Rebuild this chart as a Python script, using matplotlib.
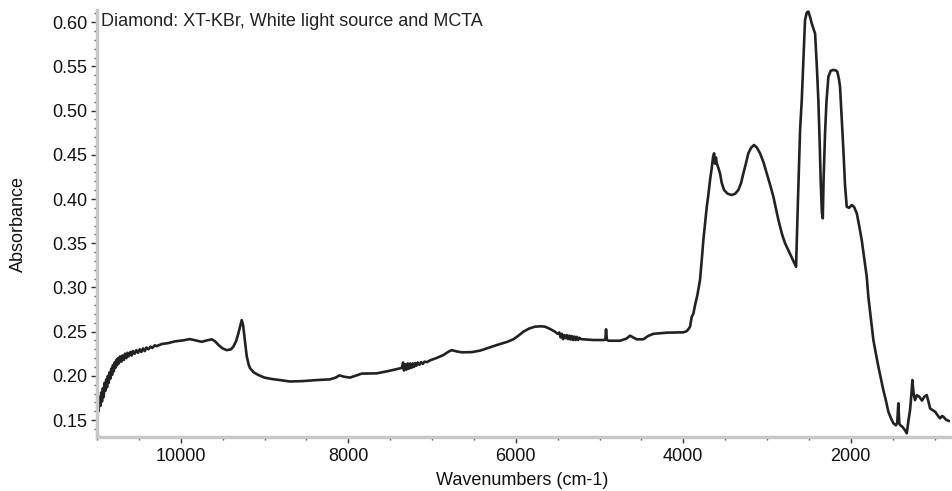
import matplotlib
matplotlib.use("Agg")
import matplotlib.pyplot as plt
from matplotlib.ticker import MultipleLocator

plt.rcParams['font.family'] = ['Liberation Sans', 'DejaVu Sans']

wavenumber = [
    11000, 10990, 10980, 10970, 10960, 10950, 10940, 10930, 10920, 10910,
    10900, 10890, 10880, 10870, 10860, 10850, 10840, 10830, 10820, 10810,
    10800, 10790, 10780, 10770, 10760, 10750, 10740, 10725, 10710, 10695,
    10680, 10665, 10650, 10635, 10620, 10600, 10585, 10570, 10550, 10530,
    10510, 10490, 10470, 10450, 10430, 10410, 10387, 10360, 10340, 10310,
    10290, 10227, 10150, 10068,
    9980, 9889, 9820, 9749, 9690, 9630, 9590, 9551, 9500, 9451,
    9400, 9372, 9340, 9312, 9290, 9272, 9255, 9240, 9225, 9212,
    9190, 9172, 9130, 9073, 9000, 8913, 8800, 8700, 8550, 8376,
    8217, 8150, 8106, 8050, 7978, 7900, 7839, 7660, 7501, 7400,
    7360, 7345, 7335, 7320, 7305, 7290, 7275, 7260, 7245, 7230,
    7215, 7200, 7185, 7170, 7150, 7130, 7110, 7090, 7060, 7023,
    6950, 6864, 6800, 6764, 6700, 6645, 6525, 6426, 6307, 6227,
    6100, 6029, 5960, 5909, 5840, 5770, 5700, 5650, 5580, 5531,
    5500, 5480, 5465, 5450, 5435, 5420, 5405, 5390, 5375, 5360,
    5345, 5330, 5315, 5300, 5285, 5270, 5255, 5240, 5220, 5150,
    5073, 4954, 4930, 4922, 4912, 4894, 4755, 4680, 4635,
    4600, 4555, 4476, 4420, 4357, 4197, 4080, 3999, 3960, 3939,
    3919, 3899, 3880, 3859, 3830, 3800, 3780, 3760, 3740, 3719,
    3700, 3680, 3660, 3645, 3632, 3620, 3610, 3600, 3580, 3561,
    3540, 3513, 3470, 3421, 3380, 3342, 3310, 3282, 3250, 3223,
    3190, 3155, 3120, 3083, 3040, 3003, 2960, 2924, 2864, 2820,
    2784, 2720, 2653, 2630, 2605, 2585, 2560, 2546, 2525, 2506,
    2486, 2466, 2440, 2426, 2405, 2387, 2370, 2358, 2345, 2334,
    2325, 2307, 2290, 2267, 2240, 2208, 2180, 2160, 2140, 2128,
    2110, 2088, 2068, 2048, 2020, 1988, 1960, 1928, 1900, 1869,
    1849, 1809, 1790, 1760, 1730, 1700, 1670, 1640, 1611, 1580,
    1551, 1520, 1491, 1460, 1445, 1432, 1420, 1411, 1380, 1350,
    1331, 1310, 1292, 1275, 1264, 1250, 1232, 1210, 1181, 1150,
    1120, 1093, 1070, 1053, 1020, 993, 960, 934, 910, 894,
    870, 854, 830,
]

absorbance = [
    0.155, 0.170, 0.160, 0.176, 0.166, 0.181, 0.171, 0.186, 0.176, 0.192,
    0.183, 0.196, 0.187, 0.200, 0.192, 0.204, 0.197, 0.208, 0.201, 0.212,
    0.205, 0.215, 0.209, 0.218, 0.212, 0.220, 0.214, 0.222, 0.216, 0.223,
    0.218, 0.225, 0.220, 0.226, 0.222, 0.227, 0.223, 0.228, 0.225, 0.229,
    0.226, 0.230, 0.227, 0.231, 0.228, 0.232, 0.230, 0.233, 0.2315, 0.2345,
    0.2335, 0.236, 0.237, 0.239,
    0.240, 0.2415, 0.240, 0.2385, 0.240, 0.2413, 0.239, 0.235, 0.231, 0.229,
    0.230, 0.233, 0.239, 0.248, 0.256, 0.263, 0.257, 0.245, 0.232, 0.222,
    0.213, 0.2085, 0.204, 0.2009, 0.198, 0.1964, 0.195, 0.1936, 0.194, 0.1952,
    0.196, 0.198, 0.2005, 0.199, 0.198, 0.2005, 0.2025, 0.2028, 0.2058, 0.208,
    0.209, 0.215, 0.206, 0.213, 0.207, 0.214, 0.208, 0.214, 0.209, 0.214,
    0.210, 0.2145, 0.2115, 0.215, 0.2125, 0.2155, 0.2135, 0.216, 0.2155, 0.2175,
    0.220, 0.2235, 0.2275, 0.229, 0.2275, 0.2266, 0.2268, 0.2285, 0.2322, 0.2348,
    0.2385, 0.2413, 0.246, 0.2499, 0.2535, 0.2556, 0.256, 0.2556, 0.2525, 0.2499,
    0.2475, 0.249, 0.2435, 0.2475, 0.2415, 0.246, 0.2425, 0.246, 0.2415, 0.2455,
    0.241, 0.245, 0.2405, 0.2445, 0.2405, 0.244, 0.2405, 0.243, 0.2415, 0.241,
    0.2405, 0.2405, 0.241, 0.2526, 0.241, 0.2397, 0.2397, 0.242, 0.2454,
    0.2435, 0.2413, 0.2413, 0.245, 0.2475, 0.2488, 0.249, 0.2492, 0.2505, 0.2526,
    0.2556, 0.2668, 0.270, 0.280, 0.292, 0.3084, 0.330, 0.3536, 0.372, 0.3913,
    0.405, 0.4215, 0.435, 0.447, 0.4517, 0.440, 0.447, 0.4404, 0.435, 0.429,
    0.418, 0.4102, 0.406, 0.4045, 0.406, 0.4102, 0.418, 0.429, 0.441, 0.4517,
    0.458, 0.4611, 0.458, 0.4517, 0.441, 0.429, 0.415, 0.4026, 0.3763, 0.360,
    0.3499, 0.337, 0.3234, 0.400, 0.478, 0.512, 0.570, 0.6025, 0.611, 0.612,
    0.606, 0.5987, 0.591, 0.5874, 0.550, 0.512, 0.460, 0.4178, 0.385, 0.3782,
    0.420, 0.4743, 0.510, 0.5384, 0.545, 0.546, 0.5455, 0.544, 0.535, 0.527,
    0.495, 0.4554, 0.415, 0.3913, 0.390, 0.3932, 0.391, 0.3838, 0.370, 0.3536,
    0.340, 0.312, 0.2895, 0.265, 0.2405, 0.225, 0.2103, 0.197, 0.1839, 0.172,
    0.1594, 0.152, 0.1463, 0.144, 0.147, 0.1689, 0.146, 0.1443, 0.142, 0.138,
    0.135, 0.150, 0.1613, 0.180, 0.1952, 0.180, 0.1726, 0.178, 0.1764, 0.172,
    0.1765, 0.1783, 0.170, 0.1632, 0.161, 0.1594, 0.155, 0.1519, 0.1545, 0.1538,
    0.151, 0.150, 0.149,
]

x_ticks = [10000, 8000, 6000, 4000, 2000]
y_ticks = [0.15, 0.20, 0.25, 0.30, 0.35, 0.40, 0.45, 0.50, 0.55, 0.60]

W, H = 953, 491
fig = plt.figure(figsize=(W / 100, H / 100), dpi=100)
ax = fig.add_axes([97 / W, (H - 437) / H, (950 - 97) / W, (437 - 10) / H])

ax.plot(wavenumber, absorbance, color='#222222', linewidth=1.9, solid_joinstyle='round')

ax.set_xlim(11000, 815)
ax.set_ylim(0.1308, 0.6138)
ax.set_xticks(x_ticks)
ax.set_xticklabels([str(t) for t in x_ticks])
ax.set_yticks(y_ticks)
ax.set_yticklabels([f"{t:.2f}" for t in y_ticks])
ax.xaxis.set_minor_locator(MultipleLocator(500))
ax.yaxis.set_minor_locator(MultipleLocator(0.01))

for side in ['top', 'right']:
    ax.spines[side].set_visible(False)
for side in ['left', 'bottom']:
    ax.spines[side].set_color('#c8c8c8')
    ax.spines[side].set_linewidth(2.5)

ax.tick_params(axis='both', which='major', direction='out', length=4, width=1,
               color='#333333', labelsize=13, labelcolor='#111111', pad=3)
ax.tick_params(axis='x', which='major', pad=4)
ax.tick_params(axis='both', which='minor', direction='out', length=2.5, width=1,
               color='#555555')

ax.set_xlabel('Wavenumbers (cm-1)', fontsize=13, color='#111111')
ax.set_ylabel('Absorbance', fontsize=13, color='#111111')
ax.xaxis.set_label_coords((522 - 97) / 853, (437 - 472) / 427)
ax.yaxis.set_label_coords((27 - 97) / 853, 0.5)

ax.text(101 / W, 1 - 22 / H, 'Diamond: XT-KBr, White light source and MCTA',
        transform=fig.transFigure, fontsize=13, color='#222222',
        ha='left', va='center')

fig.savefig('out.png', dpi=100)
